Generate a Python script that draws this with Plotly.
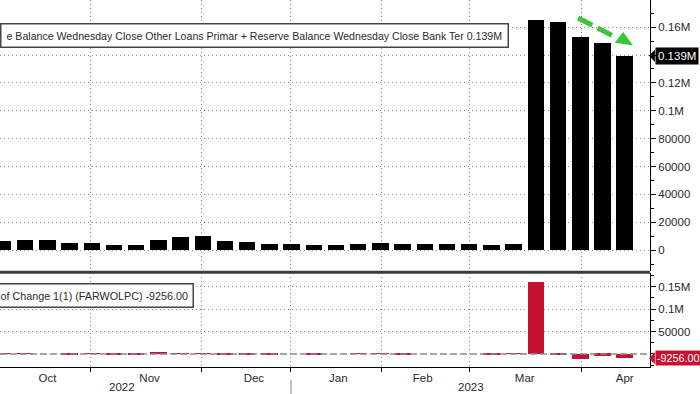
import plotly.graph_objects as go

# ---- data (values in $ millions) ----
dates = ["2022-09-28", "2022-10-05", "2022-10-12", "2022-10-19", "2022-10-26",
         "2022-11-02", "2022-11-09", "2022-11-16", "2022-11-23", "2022-11-30",
         "2022-12-07", "2022-12-14", "2022-12-21", "2022-12-28", "2023-01-04",
         "2023-01-11", "2023-01-18", "2023-01-25", "2023-02-01", "2023-02-08",
         "2023-02-15", "2023-02-22", "2023-03-01", "2023-03-08", "2023-03-15",
         "2023-03-22", "2023-03-29", "2023-04-05", "2023-04-12"]
loans = [6500, 7500, 7500, 5000, 5200, 4000, 3500, 7500, 9500, 10200,
         6800, 5800, 4700, 4700, 4000, 4000, 4400, 5200, 4700, 4700,
         4700, 4700, 4000, 4700, 164800, 163900, 152600, 148700, 139400]
changes = [500, 1000, 0, -2500, 200, -1200, -500, 4000, 2000, 700,
           -3400, -1000, -1100, 0, -700, 0, 400, 800, -500, 0,
           0, 0, -700, 700, 160100, -900, -11300, -3900, -9256]

top_tickvals = [0, 20000, 40000, 60000, 80000, 100000, 120000, 140000, 160000]
top_ticktext = ["0", "20000", "40000", "60000", "80000", "0.1M", "0.12M", "", "0.16M"]
bot_tickvals = [50000, 100000, 150000]
bot_ticktext = ["50000", "0.1M", "0.15M"]

months = ["Oct", "Nov", "Dec", "Jan", "Feb", "Mar", "Apr"]
month_label_pos = [2.0, 6.6, 11.3, 15.1, 18.9, 23.5, 28.0]
month_grid_pos = [3.96, 8.96, 12.97, 17.03, 20.99, 26.04]
years = ["2022", "2023"]
year_label_pos = [5.35, 21.1]

last_label = "0.139M"
chg_label = "-9256.00"

idx = list(range(len(dates)))

FONT = "Liberation Sans"
TXT = "#2a2a2a"
GRID = "#8c8c8c"
GDASH = "1px,3px"
RED = "#c41230"

fig = go.Figure()
fig.add_trace(go.Bar(x=idx, y=loans, marker=dict(color="black", line_width=0),
                     width=0.74, xaxis="x", yaxis="y", customdata=dates,
                     hovertemplate="%{customdata}: %{y}<extra></extra>"))
fig.add_trace(go.Bar(x=idx, y=changes, marker=dict(color=RED, line_width=0),
                     width=0.74, xaxis="x", yaxis="y2", customdata=dates,
                     hovertemplate="%{customdata}: %{y}<extra></extra>"))

top_dom = [0.2616, 1.0]
bot_dom = [0.0, 0.256]

fig.update_layout(
    width=700, height=394,
    margin=dict(l=0, r=50, t=0, b=27),
    paper_bgcolor="white", plot_bgcolor="white",
    showlegend=False, bargap=0,
    font=dict(family=FONT, size=11, color=TXT),
    xaxis=dict(
        domain=[0, 1], anchor="y2", range=[-0.135, 29.14],
        tickmode="array", tickvals=month_label_pos, ticktext=months,
        ticks="", showgrid=False, zeroline=False,
        showline=True, linecolor="black", linewidth=1,
        tickfont=dict(family=FONT, size=11.5, color=TXT),
        minor=dict(tickmode="array", tickvals=month_grid_pos, showgrid=True,
                   griddash=GDASH, gridcolor=GRID, gridwidth=1,
                   ticks="outside", ticklen=4, tickcolor="black"),
    ),
    yaxis=dict(
        domain=top_dom, anchor="x", side="right", range=[-15000, 179500],
        tickmode="array", tickvals=top_tickvals, ticktext=top_ticktext,
        ticks="outside", ticklen=5, tickcolor="black",
        showgrid=True, griddash=GDASH, gridcolor=GRID, gridwidth=1,
        zeroline=False, showline=True, linecolor="black", linewidth=1,
        tickfont=dict(family=FONT, size=11.5, color=TXT),
        minor=dict(dtick=10000, tick0=0, ticks="outside", ticklen=3, tickcolor="black", showgrid=False),
    ),
    yaxis2=dict(
        domain=bot_dom, anchor="x", side="right", range=[-29000, 180000],
        tickmode="array", tickvals=bot_tickvals, ticktext=bot_ticktext,
        ticks="outside", ticklen=5, tickcolor="black",
        showgrid=True, griddash=GDASH, gridcolor=GRID, gridwidth=1,
        zeroline=False, showline=True, linecolor="black", linewidth=1,
        tickfont=dict(family=FONT, size=11.5, color=TXT),
        minor=dict(dtick=25000, tick0=0, ticks="outside", ticklen=3, tickcolor="black", showgrid=False),
    ),
)

shapes = []
# separator between panels
shapes.append(dict(type="line", xref="paper", yref="paper", x0=0, x1=1,
                   y0=0.2585, y1=0.2585, line=dict(color="#3c3c3c", width=3)))
# zero line in lower panel
shapes.append(dict(type="line", xref="paper", yref="y2", x0=0, x1=1, y0=0, y1=0,
                   line=dict(color="#8a8a8a", width=1.5, dash="7px,3px")))
# year separator
shapes.append(dict(type="line", xref="x", yref="paper", x0=12.97, x1=12.97,
                   y0=-0.035, y1=-0.08, line=dict(color="#888888", width=1)))
# pointer triangles for value labels
shapes.append(dict(type="path", xref="paper", yref="y",
                   path="M 0.9985 139400 L 1.0075 143800 L 1.0075 135000 Z",
                   fillcolor="black", line=dict(width=0)))
shapes.append(dict(type="path", xref="paper", yref="y2",
                   path="M 0.9985 -9256 L 1.0075 4300 L 1.0075 -22800 Z",
                   fillcolor=RED, line=dict(width=0)))
# green dashed arrow
shapes.append(dict(type="line", xref="x", yref="y", x0=25.9, y0=166600, x1=27.5, y1=153500,
                   line=dict(color="#39c83a", width=5, dash="16px,6px")))
shapes.append(dict(type="path", xref="x", yref="y",
                   path="M 27.55 148800 L 27.93 156600 L 28.38 146900 Z",
                   fillcolor="#39c83a", line=dict(width=0)))
fig.update_layout(shapes=shapes)

ann = []
ann.append(dict(xref="paper", yref="paper", x=509 / 650, y=0.902, xanchor="right", yanchor="middle",
                text="e Balance Wednesday Close Other Loans Primar + Reserve Balance Wednesday Close Bank Ter 0.139M",
                showarrow=False, font=dict(family=FONT, size=10.6, color=TXT),
                bgcolor="white", bordercolor="#444444", borderwidth=1.5, borderpad=5))
ann.append(dict(xref="paper", yref="paper", x=194 / 650, y=0.196, xanchor="right", yanchor="middle",
                text="of Change 1(1) (FARWOLPC) -9256.00",
                showarrow=False, font=dict(family=FONT, size=10.75, color=TXT),
                bgcolor="white", bordercolor="#444444", borderwidth=1.5, borderpad=5))
ann.append(dict(xref="paper", yref="y", x=1.0075, y=139400, xanchor="left", yanchor="middle",
                text=last_label, showarrow=False, font=dict(family=FONT, size=11.5, color="white"),
                bgcolor="black", borderpad=2))
ann.append(dict(xref="paper", yref="y2", x=1.0075, y=-9256, xanchor="left", yanchor="middle",
                text=chg_label, showarrow=False, font=dict(family=FONT, size=10.8, color="white"),
                bgcolor=RED, borderpad=1))
for yl, xp in zip(years, year_label_pos):
    ann.append(dict(xref="x", yref="paper", x=xp, y=-0.0545, xanchor="center", yanchor="middle",
                    text=yl, showarrow=False, font=dict(family=FONT, size=11.5, color=TXT)))
fig.update_layout(annotations=ann)

fig.write_html("out.html", config={"displayModeBar": False},
               post_script="document.body.style.margin='0px';document.body.style.overflow='hidden';")
